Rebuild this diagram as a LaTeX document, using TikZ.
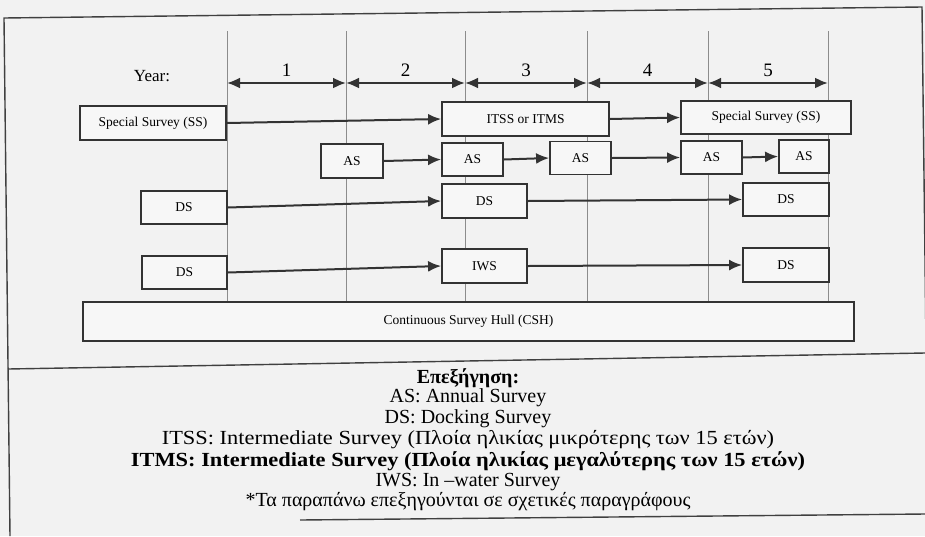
\documentclass[tikz,border=0pt]{standalone}
\usepackage{graphicx}
\usepackage{fontspec}
\setmainfont{Liberation Serif}
\usetikzlibrary{arrows.meta}
\begin{document}
\begin{tikzpicture}[x=1pt,y=-1pt,
  box/.style={draw=black!80,line width=1.8pt,fill=black!3,inner sep=0pt,font=\fontsize{13.5}{15}\selectfont},
  conn/.style={draw=black!80,line width=2pt,-{Latex[length=13pt,width=11pt]}},
  yr/.style={draw=black!80,line width=2.2pt,{Latex[length=13pt,width=11pt]}-{Latex[length=13pt,width=11pt]}},
  grid/.style={draw=black!45,line width=0.7pt},
  frame/.style={draw=black!75,line width=1.4pt},
  legend/.style={font=\fontsize{20}{22}\selectfont,inner sep=0pt}]
\useasboundingbox (0,0) rectangle (925,536);
\clip (0,0) rectangle (925,536);
\fill[black!5] (0,0) rectangle (925,536);
% frame (slightly skewed, as scanned)
\draw[frame] (10,536) -- (4,18) -- (922,7) -- (928,515);
\draw[frame] (8,369) -- (925,353);
\draw[frame] (300,520) -- (925,514);
% year dividers
\foreach \i/\x in {0/227,1/346,2/465,3/587,4/708,5/828}{
  \coordinate (t\i) at (\x,31);
  \coordinate (b\i) at (\x,302);
  \coordinate (y\i) at (\x,83);
  \draw[grid] (t\i) -- (b\i);
}
\node[font=\fontsize{17}{19}\selectfont] (year) at (152,76) {Year:};
\foreach \a/\b/\n in {0/1/1,1/2/2,2/3/3,3/4/4,4/5/5}{
  \draw[yr] (y\a) -- (y\b) node[midway,above=2pt,font=\fontsize{19}{21}\selectfont] (yl\n) {\n};
}
% boxes
\node[box,minimum width=146pt,minimum height=34pt] (ss1) at (153,123) {Special Survey (SS)};
\node[box,minimum width=167pt,minimum height=34pt] (itss) at (525.5,119) {ITSS or ITMS};
\node[box,minimum width=170pt,minimum height=33pt] (ss2) at (766,117.5) {Special Survey (SS)};
\node[box,minimum width=62pt,minimum height=34pt] (as1) at (352,161) {AS};
\node[box,minimum width=61pt,minimum height=33pt] (as2) at (472.5,159.5) {AS};
\node[box,minimum width=61pt,minimum height=33pt] (as3) at (580.5,158) {AS};
\node[box,minimum width=61pt,minimum height=33pt] (as4) at (711.5,157.5) {AS};
\node[box,minimum width=50pt,minimum height=33pt] (as5) at (804,156.5) {AS};
\node[box,minimum width=86pt,minimum height=33pt] (ds1) at (184,207.5) {DS};
\node[box,minimum width=85pt,minimum height=34pt] (dsm) at (484.5,201) {DS};
\node[box,minimum width=86pt,minimum height=33pt] (dsr) at (786,199.5) {DS};
\node[box,minimum width=85pt,minimum height=33pt] (ds2) at (184.5,272.5) {DS};
\node[box,minimum width=85pt,minimum height=34pt] (iws) at (484.5,266) {IWS};
\node[box,minimum width=86pt,minimum height=34pt] (dsr2) at (786,265) {DS};
\node[box,minimum width=771pt,minimum height=39pt] (csh) at (468.5,321.5) {Continuous Survey Hull (CSH)};
% connectors
\draw[conn] (ss1.east) -- (itss.west);
\draw[conn] (itss.east) -- (ss2.west);
\draw[conn] (as1.east) -- (as2.west);
\draw[conn] (as2.east) -- (as3.west);
\draw[conn] (as3.east) -- (as4.west);
\draw[conn] (as4.east) -- (as5.west);
\draw[conn] (ds1.east) -- (dsm.west);
\draw[conn] (dsm.east) -- (dsr.west);
\draw[conn] (ds2.east) -- (iws.west);
\draw[conn] (iws.east) -- (dsr2.west);
% legend
\node[legend,font=\fontsize{20}{22}\selectfont\bfseries] (l0) at (468,378) {Επεξήγηση:};
\node[legend] (l1) at (468,398) {AS: Annual Survey};
\node[legend] (l2) at (468,419) {DS: Docking Survey};
\node[legend] (l3) at (468,440) {\scalebox{1.12}[1]{ITSS: Intermediate Survey (Πλοία ηλικίας μικρότερης των 15 ετών)}};
\node[legend,font=\fontsize{20}{22}\selectfont\bfseries] (l4) at (468,461) {\scalebox{1.12}[1]{ITMS: Intermediate Survey (Πλοία ηλικίας μεγαλύτερης των 15 ετών)}};
\node[legend] (l5) at (468,482) {IWS: In –water Survey};
\node[legend] (l6) at (468,502) {*Τα παραπάνω επεξηγούνται σε σχετικές παραγράφους};
\end{tikzpicture}
\end{document}
